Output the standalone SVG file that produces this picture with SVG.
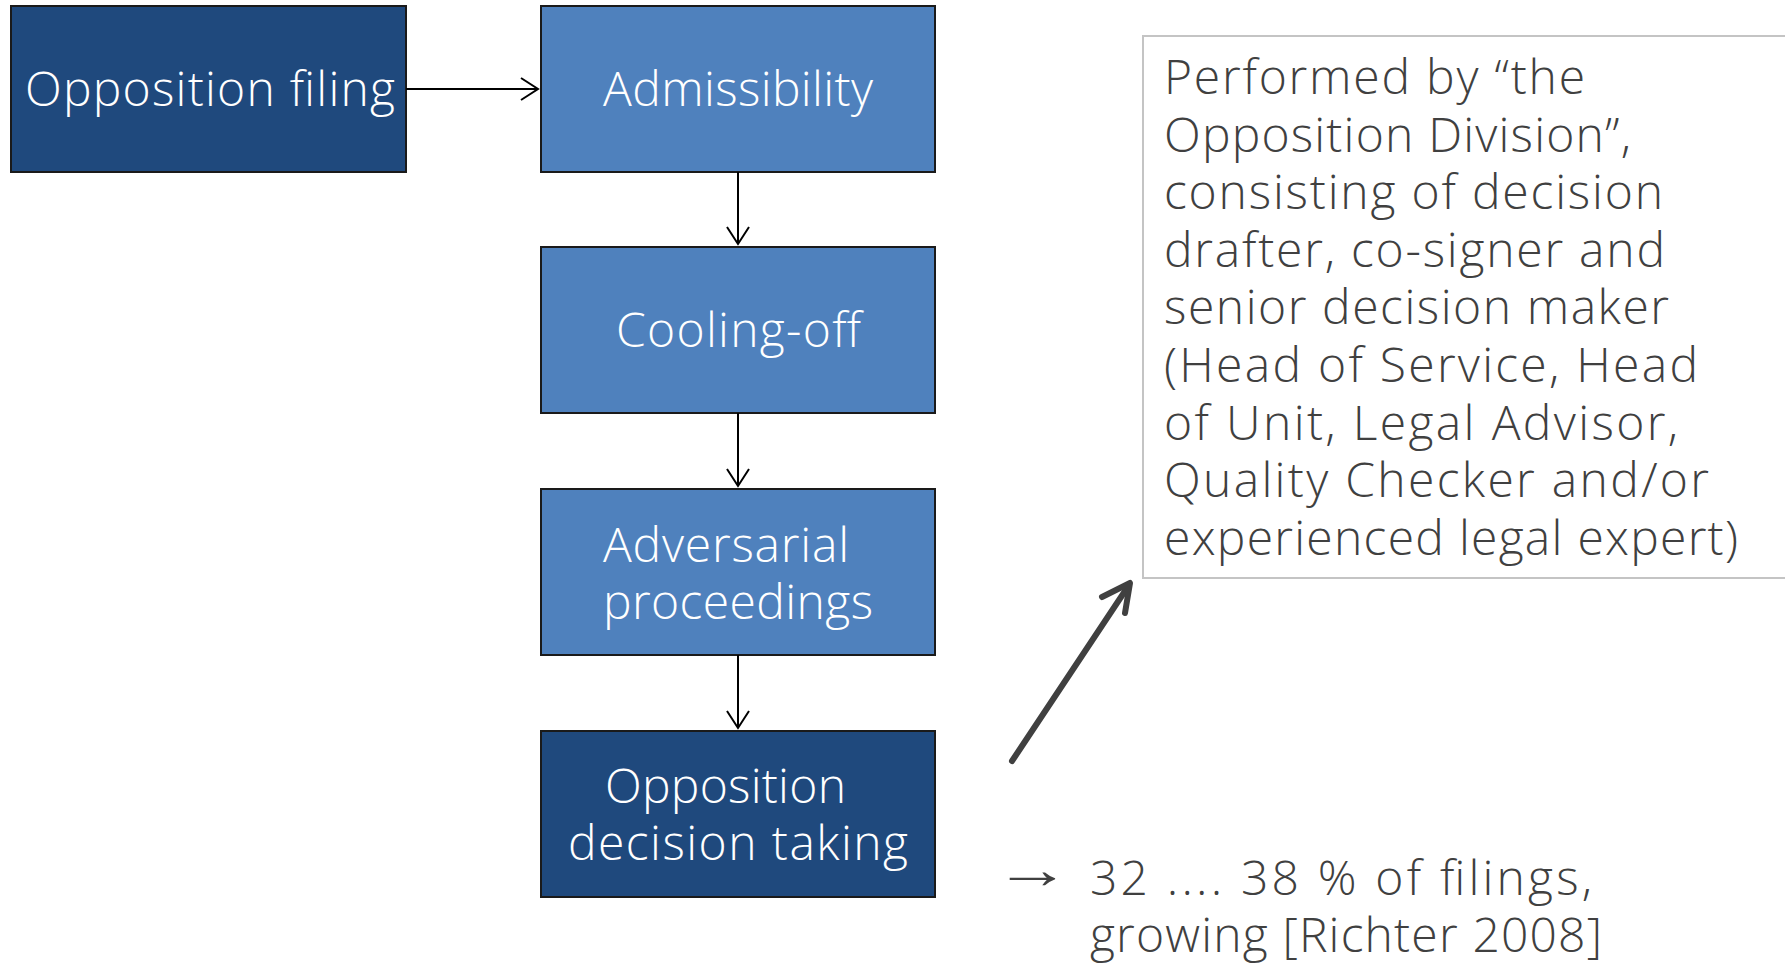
<svg xmlns="http://www.w3.org/2000/svg" width="1785" height="965" viewBox="0 0 1785 965">
  <style>
    .dark { fill: #1f497d; stroke: #1a1a1a; stroke-width: 2; }
    .light { fill: #4f81bd; stroke: #1a1a1a; stroke-width: 2; }
    .ntext { font-family: "Open Sans", "Liberation Sans", sans-serif; font-size: 48px; font-weight: 300; fill: #ffffff; }
    .btext { font-family: "Open Sans", "Liberation Sans", sans-serif; font-size: 48px; font-weight: 300; fill: #404040; }
    .conn { stroke: #000000; stroke-width: 2; fill: none; }
  </style>
  <defs>
    <marker id="open" viewBox="0 0 20 24" refX="18" refY="12" markerWidth="20" markerHeight="24" markerUnits="userSpaceOnUse" orient="auto">
      <path d="M1,1 L18,12 L1,23" fill="none" stroke="#000" stroke-width="2"/>
    </marker>
  </defs>
  <rect width="1785" height="965" fill="#ffffff"/>

  <g id="opposition-filing">
    <rect class="dark" x="11" y="6" width="395" height="166"/>
    <text class="ntext" x="25" y="105.5" textLength="370" lengthAdjust="spacing">Opposition filing</text>
  </g>
  <g id="admissibility">
    <rect class="light" x="541" y="6" width="394" height="166"/>
    <text class="ntext" x="603" y="105.5" textLength="270" lengthAdjust="spacing">Admissibility</text>
  </g>
  <g id="cooling-off">
    <rect class="light" x="541" y="247" width="394" height="166"/>
    <text class="ntext" x="616" y="347" textLength="245" lengthAdjust="spacing">Cooling-off</text>
  </g>
  <g id="adversarial">
    <rect class="light" x="541" y="489" width="394" height="166"/>
    <text class="ntext" x="603" y="561.5" textLength="246" lengthAdjust="spacing">Adversarial</text>
    <text class="ntext" x="603" y="618.5" textLength="270" lengthAdjust="spacing">proceedings</text>
  </g>
  <g id="decision">
    <rect class="dark" x="541" y="731" width="394" height="166"/>
    <text class="ntext" x="605" y="802.5" textLength="241" lengthAdjust="spacing">Opposition</text>
    <text class="ntext" x="568" y="860" textLength="340" lengthAdjust="spacing">decision taking</text>
  </g>

  <g id="division-note">
    <rect x="1143" y="36" width="650" height="542" fill="#ffffff" stroke="#c4c4c4" stroke-width="2"/>
    <text class="btext" x="1164" y="94" textLength="421" lengthAdjust="spacing">Performed by “the</text>
    <text class="btext" x="1164" y="151.6" textLength="467" lengthAdjust="spacing">Opposition Division”,</text>
    <text class="btext" x="1164" y="209.2" textLength="499" lengthAdjust="spacing">consisting of decision</text>
    <text class="btext" x="1164" y="266.8" textLength="501" lengthAdjust="spacing">drafter, co-signer and</text>
    <text class="btext" x="1164" y="324.4" textLength="505" lengthAdjust="spacing">senior decision maker</text>
    <text class="btext" x="1164" y="382" textLength="534" lengthAdjust="spacing">(Head of Service, Head</text>
    <text class="btext" x="1164" y="439.6" textLength="514" lengthAdjust="spacing">of Unit, Legal Advisor,</text>
    <text class="btext" x="1164" y="497.2" textLength="545" lengthAdjust="spacing">Quality Checker and/or</text>
    <text class="btext" x="1164" y="554.8" textLength="574" lengthAdjust="spacing">experienced legal expert)</text>
  </g>

  <g id="share-note">
    <text class="btext" transform="translate(994,888) scale(1.6,1.15)" font-family="DejaVu Sans, sans-serif" font-size="44" font-weight="400">→</text>
    <text class="btext" x="1090" y="895" textLength="502" lengthAdjust="spacing">32 .... 38 % of filings,</text>
    <text class="btext" x="1090" y="952" textLength="512" lengthAdjust="spacing">growing [Richter 2008]</text>
  </g>

  <g id="connectors">
    <line class="conn" x1="406" y1="89" x2="538" y2="89" marker-end="url(#open)"/>
    <line class="conn" x1="738" y1="172" x2="738" y2="244" marker-end="url(#open)"/>
    <line class="conn" x1="738" y1="413" x2="738" y2="486" marker-end="url(#open)"/>
    <line class="conn" x1="738" y1="655" x2="738" y2="728" marker-end="url(#open)"/>
    <g stroke="#404040" stroke-width="6" stroke-linecap="round" stroke-linejoin="round" fill="none">
      <line x1="1012" y1="761" x2="1129" y2="585"/>
      <polyline points="1102,597 1130,583 1125,613"/>
    </g>
  </g>
</svg>
